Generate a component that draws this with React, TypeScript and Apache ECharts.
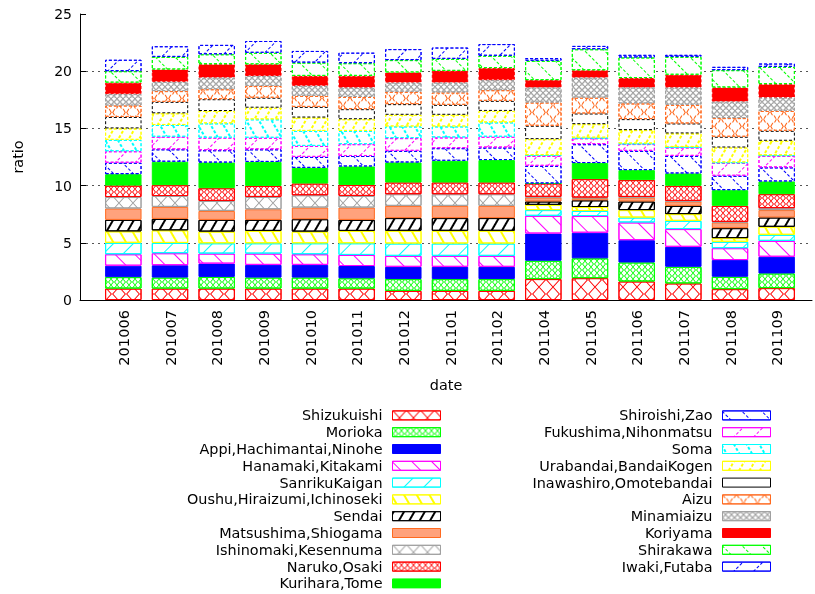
import React, { useEffect, useRef } from 'react';
import * as echarts from 'echarts';

const months = ['201006', '201007', '201008', '201009', '201010', '201011', '201012', '201101', '201102', '201104', '201105', '201106', '201107', '201108', '201109'];

const seriesNames = [
  'Shizukuishi', 'Morioka', 'Appi,Hachimantai,Ninohe', 'Hanamaki,Kitakami', 'SanrikuKaigan',
  'Oushu,Hiraizumi,Ichinoseki', 'Sendai', 'Matsushima,Shiogama', 'Ishinomaki,Kesennuma',
  'Naruko,Osaki', 'Kurihara,Tome', 'Shiroishi,Zao', 'Fukushima,Nihonmatsu', 'Soma',
  'Urabandai,BandaiKogen', 'Inawashiro,Omotebandai', 'Aizu', 'Minamiaizu', 'Koriyama',
  'Shirakawa', 'Iwaki,Futaba',
];

const shizukuishi = [1.0, 1.0, 1.0, 1.0, 1.0, 1.0, 0.8, 0.8, 0.8, 1.83, 1.91, 1.62, 1.45, 0.95, 1.04];
const morioka = [1.0, 0.96, 1.02, 0.96, 0.96, 0.9, 1.03, 1.03, 1.03, 1.6, 1.73, 1.66, 1.45, 1.08, 1.28];
const appi = [1.0, 1.08, 1.16, 1.11, 1.11, 1.07, 1.07, 1.07, 1.07, 2.38, 2.24, 1.95, 1.75, 1.46, 1.46];
const hanamaki = [1.0, 1.05, 0.88, 0.99, 0.93, 0.97, 0.96, 0.96, 0.96, 1.55, 1.46, 1.55, 1.55, 1.04, 1.39];
const sanriku = [1.0, 0.9, 0.9, 0.9, 0.96, 1.02, 1.08, 1.08, 1.08, 0.5, 0.44, 0.43, 0.72, 0.56, 0.53];
const oushu = [1.0, 1.1, 1.02, 1.08, 1.02, 1.08, 1.11, 1.11, 1.11, 0.46, 0.35, 0.65, 0.59, 0.32, 0.7];
const sendai = [1.0, 1.0, 1.02, 0.96, 1.08, 0.96, 1.11, 1.11, 1.11, 0.29, 0.58, 0.75, 0.72, 0.87, 0.81];
const matsushima = [1.0, 1.05, 0.79, 0.93, 1.02, 1.08, 1.07, 1.07, 1.07, 0.35, 0.2, 0.35, 0.38, 0.5, 0.65];
const ishinomaki = [1.0, 0.95, 0.87, 1.08, 1.08, 1.02, 1.02, 1.02, 1.02, 0.06, 0.05, 0.05, 0.05, 0.05, 0.17];
const naruko = [1.0, 0.95, 1.11, 0.96, 1.02, 0.96, 1.02, 1.02, 1.02, 1.17, 1.61, 1.47, 1.32, 1.4, 1.22];
const kurihara = [1.0, 2.05, 2.24, 2.1, 1.37, 1.61, 1.75, 1.9, 1.96, 0, 1.4, 0.87, 1.08, 1.37, 1.11];
const shiroishi = [1.0, 1.08, 1.08, 1.1, 0.96, 0.92, 1.02, 1.1, 1.1, 1.54, 1.65, 1.69, 1.54, 1.26, 1.23];
const fukushima = [1.0, 1.1, 1.1, 1.01, 0.96, 1.03, 1.11, 0.94, 0.94, 0.87, 0.52, 0.59, 0.73, 1.12, 1.01];
const soma = [1.0, 1.03, 1.25, 1.61, 1.31, 1.16, 1.02, 0.96, 1.25, 0.06, 0.05, 0.05, 0.05, 0.05, 0.05];
const urabandai = [1.0, 1.02, 1.08, 1.02, 1.17, 1.02, 1.02, 1.02, 1.01, 1.4, 1.18, 1.17, 1.18, 1.3, 1.27];
const inawashiro = [1.0, 1.0, 1.03, 0.87, 0.93, 0.88, 0.93, 0.87, 0.88, 1.17, 0.93, 0.96, 0.87, 0.94, 0.87];
const aizu = [1.0, 0.94, 0.87, 1.03, 0.96, 1.07, 1.08, 1.08, 0.93, 2.03, 1.39, 1.37, 1.63, 1.63, 1.74];
const minamiaizu = [1.0, 0.81, 1.02, 0.87, 0.88, 0.82, 0.81, 0.87, 0.88, 1.32, 1.75, 1.4, 1.52, 1.45, 1.17];
const koriyama = [1.0, 1.08, 1.17, 1.02, 0.87, 1.02, 0.88, 1.02, 1.05, 0.64, 0.64, 0.82, 1.11, 1.23, 1.17];
const shirakawa = [1.0, 1.1, 0.87, 1.01, 1.16, 1.11, 1.08, 1.05, 1.08, 1.69, 1.84, 1.8, 1.57, 1.51, 1.51];
const iwaki = [1.0, 0.93, 0.82, 1.03, 1.02, 0.92, 0.96, 0.99, 1.02, 0.23, 0.29, 0.23, 0.17, 0.29, 0.29];

const seriesValues = [
  shizukuishi, morioka, appi, hanamaki, sanriku, oushu, sendai, matsushima, ishinomaki, naruko,
  kurihara, shiroishi, fukushima, soma, urabandai, inawashiro, aizu, minamiaizu, koriyama,
  shirakawa, iwaki,
];

const yTicks = [0, 5, 10, 15, 20, 25];

// visual styling (gnuplot-like line types / fill patterns)
const palette = ['#ff0000', '#00ff00', '#0000ff', '#ff00ff', '#00ffff', '#ffff00', '#000000', '#ff6a1f', '#a0a0a0'];
const patternOrder = ['empty', 'x', 'cross', 'solid', 'bs', 'fs', 'bsd', 'fsd'];

const FONT = "'DejaVu Sans', Verdana, sans-serif";

// X-shaped symbol in a 10x10 box (corner to corner), optionally dashed
function xSymbol(t: number, dashed: boolean): string {
  const r = (n: number) => n.toFixed(2);
  const parts: string[] = [];
  const pieces: [number, number][] = [];
  if (!dashed) pieces.push([0, 10 - t]);
  else {
    for (let a = 0; a < 10 - t; a += 2.5) pieces.push([a, Math.min(a + 1.3, 10 - t)]);
  }
  for (const [a, b] of pieces) {
    parts.push(`M${r(a)} ${r(a)}L${r(a + t)} ${r(a)}L${r(b + t)} ${r(b + t)}L${r(b)} ${r(b + t)}Z`);
    parts.push(`M${r(10 - a - t)} ${r(a)}L${r(10 - a)} ${r(a)}L${r(10 - b)} ${r(b + t)}L${r(10 - b - t)} ${r(b + t)}Z`);
  }
  return 'path://' + parts.join('');
}

function makeDecal(pattern: string, color: string, dashed: boolean): any {
  const lineX = dashed ? [3, 2] : [1, 0];
  switch (pattern) {
    case 'x':
      return { symbol: xSymbol(0.9, dashed), symbolSize: 1, symbolKeepAspect: false, color, dashArrayX: [14, 0], dashArrayY: [14, 0], rotation: 0 };
    case 'cross':
      return { symbol: xSymbol(dashed ? 2.2 : 1.8, dashed), symbolSize: 1, symbolKeepAspect: false, color, dashArrayX: [6, 0], dashArrayY: [6, 0], rotation: 0 };
    case 'bs':
      return { symbol: 'rect', symbolSize: 1, color, dashArrayX: lineX, dashArrayY: [1, 13], rotation: Math.PI / 4 };
    case 'fs':
      return { symbol: 'rect', symbolSize: 1, color, dashArrayX: lineX, dashArrayY: [1, 13], rotation: -Math.PI / 4 };
    case 'bsd':
      return { symbol: 'rect', symbolSize: 1, color, dashArrayX: lineX, dashArrayY: [1.2, 9], rotation: Math.PI / 3 };
    case 'fsd':
      return { symbol: 'rect', symbolSize: 1, color, dashArrayX: lineX, dashArrayY: [1.5, 7], rotation: -Math.PI / 3 };
    default:
      return null;
  }
}

function styleFor(i: number) {
  const color = palette[i % palette.length];
  const dashed = i >= 11;
  const pattern = patternOrder[(i + 1) % 8];
  let fill = '#ffffff';
  if (pattern === 'solid') fill = color;
  if (i === 7) fill = '#ffa27c';
  const decal = makeDecal(pattern, color, dashed);
  const itemStyle: any = {
    color: fill,
    borderColor: color,
    borderWidth: 1,
    borderType: dashed ? [3, 2] : 'solid',
  };
  if (decal) itemStyle.decal = decal;
  return itemStyle;
}

export default function App() {
  const ref = useRef<HTMLDivElement>(null);
  useEffect(() => {
    const chart = echarts.init(ref.current!, undefined, { renderer: 'svg' });
    const series = seriesNames.map((name, i) => ({
      name,
      type: 'bar',
      stack: 'total',
      xAxisIndex: 1,
      yAxisIndex: 1,
      barWidth: '78%',
      data: seriesValues[i],
      itemStyle: styleFor(i),
      emphasis: { disabled: true },
    }));
    const legendCommon = {
      orient: 'vertical',
      icon: 'rect',
      align: 'right',
      itemWidth: 48,
      itemHeight: 9,
      itemGap: 0,
      padding: 0,
      selectedMode: false,
      top: 407,
      itemStyle: { borderWidth: 1 },
      textStyle: { fontFamily: FONT, fontSize: 14.4, lineHeight: 16.8, color: '#000', padding: [0, 5, 0, 0] },
    };
    chart.setOption({
      animation: false,
      textStyle: { fontFamily: FONT },
      grid: [
        { left: 80, right: 3, top: 14, bottom: 294 },
        { left: 100, right: 15, top: 14, bottom: 294 },
      ],
      xAxis: [
        {
          gridIndex: 0, type: 'value', min: 0, max: 1,
          axisLine: { show: true, lineStyle: { color: '#000', width: 1 } },
          axisTick: { show: false }, axisLabel: { show: false }, splitLine: { show: false },
          name: 'date', nameLocation: 'middle', nameGap: 78,
          nameTextStyle: { fontFamily: FONT, fontSize: 14.4, color: '#000' },
        },
        {
          gridIndex: 1, type: 'category', data: months,
          axisLine: { show: false }, axisTick: { show: false },
          axisLabel: { rotate: 90, interval: 0, fontFamily: FONT, fontSize: 14.6, color: '#000', margin: 10 },
        },
      ],
      yAxis: [
        {
          gridIndex: 0, type: 'value', min: yTicks[0], max: yTicks[yTicks.length - 1], interval: 5,
          axisLine: { show: true, lineStyle: { color: '#000', width: 1 } },
          axisTick: { show: true, inside: true, length: 6, lineStyle: { color: '#000' } },
          axisLabel: { fontFamily: FONT, fontSize: 14, color: '#000', margin: 8 },
          splitLine: { show: true, showMinLine: false, showMaxLine: false, lineStyle: { color: '#555', type: [2, 4], width: 1 } },
          name: 'ratio', nameLocation: 'middle', nameGap: 55, nameRotate: 90,
          nameTextStyle: { fontFamily: FONT, fontSize: 14.4, color: '#000' },
        },
        { gridIndex: 1, type: 'value', min: 0, max: 25, show: false, splitLine: { show: false } },
      ],
      legend: [
        { ...legendCommon, data: seriesNames.slice(0, 11), right: 374 },
        { ...legendCommon, data: seriesNames.slice(11), right: 44 },
      ],
      series,
    });
    return () => chart.dispose();
  }, []);
  return <div ref={ref} style={{ position: 'fixed', left: 0, top: 0, width: 815, height: 594 }} />;
}
